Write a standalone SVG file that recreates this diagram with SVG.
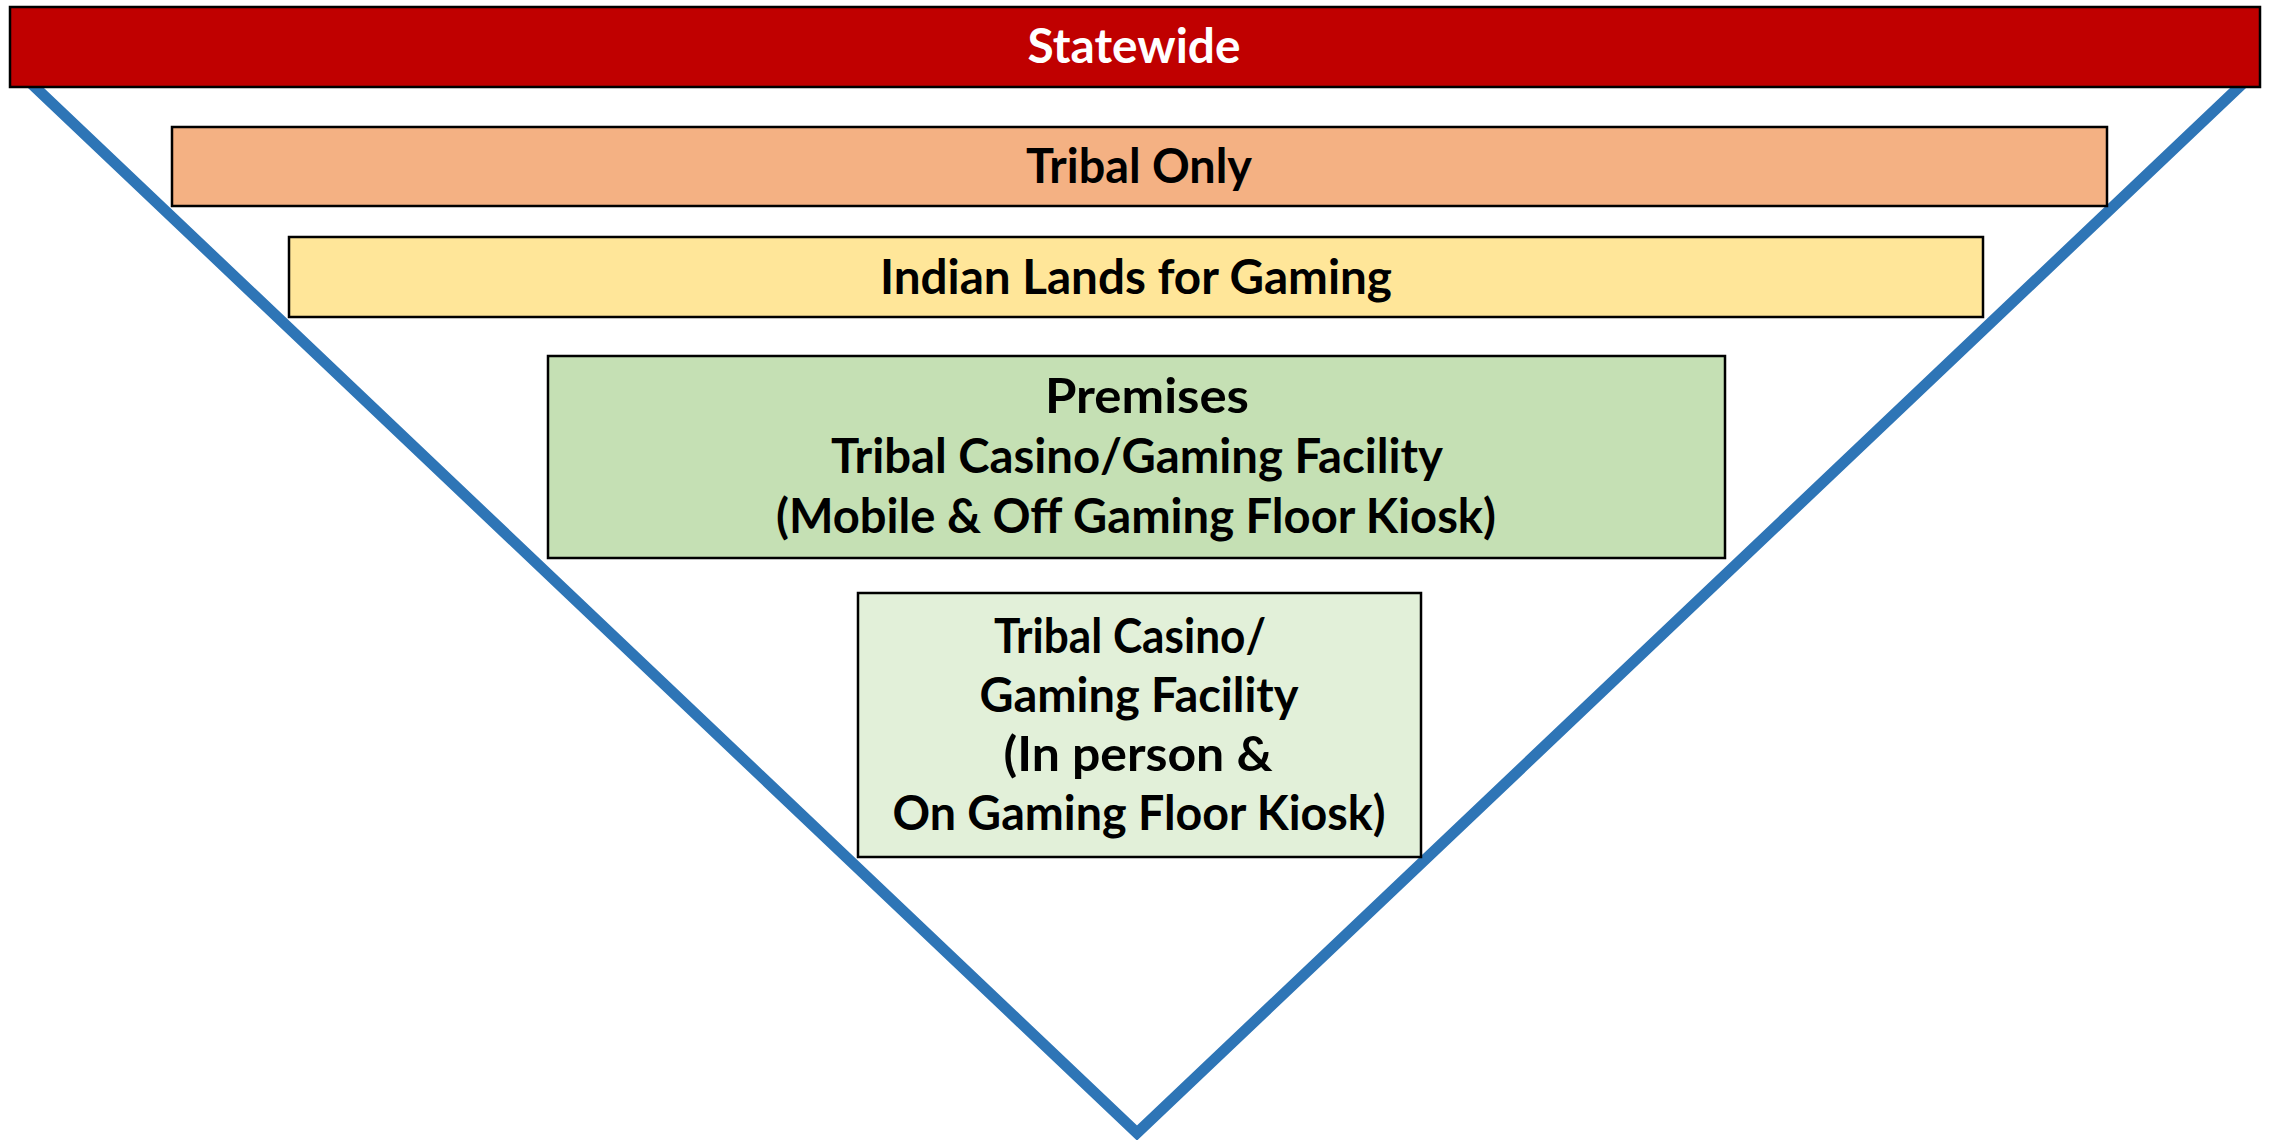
<svg xmlns="http://www.w3.org/2000/svg" width="2269" height="1140" viewBox="0 0 2269 1140">
  <style>
    .box { stroke: #000000; stroke-width: 2.5; }
    .t { font-family: Lato, "Liberation Sans", sans-serif; font-weight: 700; font-size: 47px; text-anchor: middle; fill: #000000; }
    .w { fill: #FFFFFF; }
    .vee { fill: none; stroke: #2E75B6; stroke-width: 11; stroke-linejoin: miter; }
  </style>
  <rect width="2269" height="1140" fill="#FFFFFF"/>
  <g id="connectors">
    <polyline class="vee" points="17,70 1137,1133 2257,70"/>
  </g>
  <g id="statewide">
    <rect class="box" x="10" y="7" width="2250" height="80" fill="#C00000"/>
    <text class="t w" x="1134" y="63" textLength="213" lengthAdjust="spacingAndGlyphs">Statewide</text>
  </g>
  <g id="tribal-only">
    <rect class="box" x="172" y="127" width="1935" height="79" fill="#F4B183"/>
    <text class="t" x="1139" y="183" textLength="226" lengthAdjust="spacingAndGlyphs">Tribal Only</text>
  </g>
  <g id="indian-lands">
    <rect class="box" x="289" y="237" width="1694" height="80" fill="#FFE699"/>
    <text class="t" x="1136" y="294" textLength="512" lengthAdjust="spacingAndGlyphs">Indian Lands for Gaming</text>
  </g>
  <g id="premises">
    <rect class="box" x="548" y="356" width="1177" height="202" fill="#C5E0B4"/>
    <text class="t" x="1147" y="413" textLength="204" lengthAdjust="spacingAndGlyphs">Premises</text>
    <text class="t" x="1137" y="473" textLength="612" lengthAdjust="spacingAndGlyphs">Tribal Casino/Gaming Facility</text>
    <text class="t" x="1136" y="533" textLength="720" lengthAdjust="spacingAndGlyphs">(Mobile &amp; Off Gaming Floor Kiosk)</text>
  </g>
  <g id="facility">
    <rect class="box" x="858" y="593" width="563" height="264" fill="#E2F0D9"/>
    <text class="t" x="1130" y="653" textLength="272" lengthAdjust="spacingAndGlyphs">Tribal Casino/</text>
    <text class="t" x="1139" y="712" textLength="319" lengthAdjust="spacingAndGlyphs">Gaming Facility</text>
    <text class="t" x="1138" y="771" textLength="269" lengthAdjust="spacingAndGlyphs">(In person &amp;</text>
    <text class="t" x="1139" y="830" textLength="493" lengthAdjust="spacingAndGlyphs">On Gaming Floor Kiosk)</text>
  </g>
</svg>
